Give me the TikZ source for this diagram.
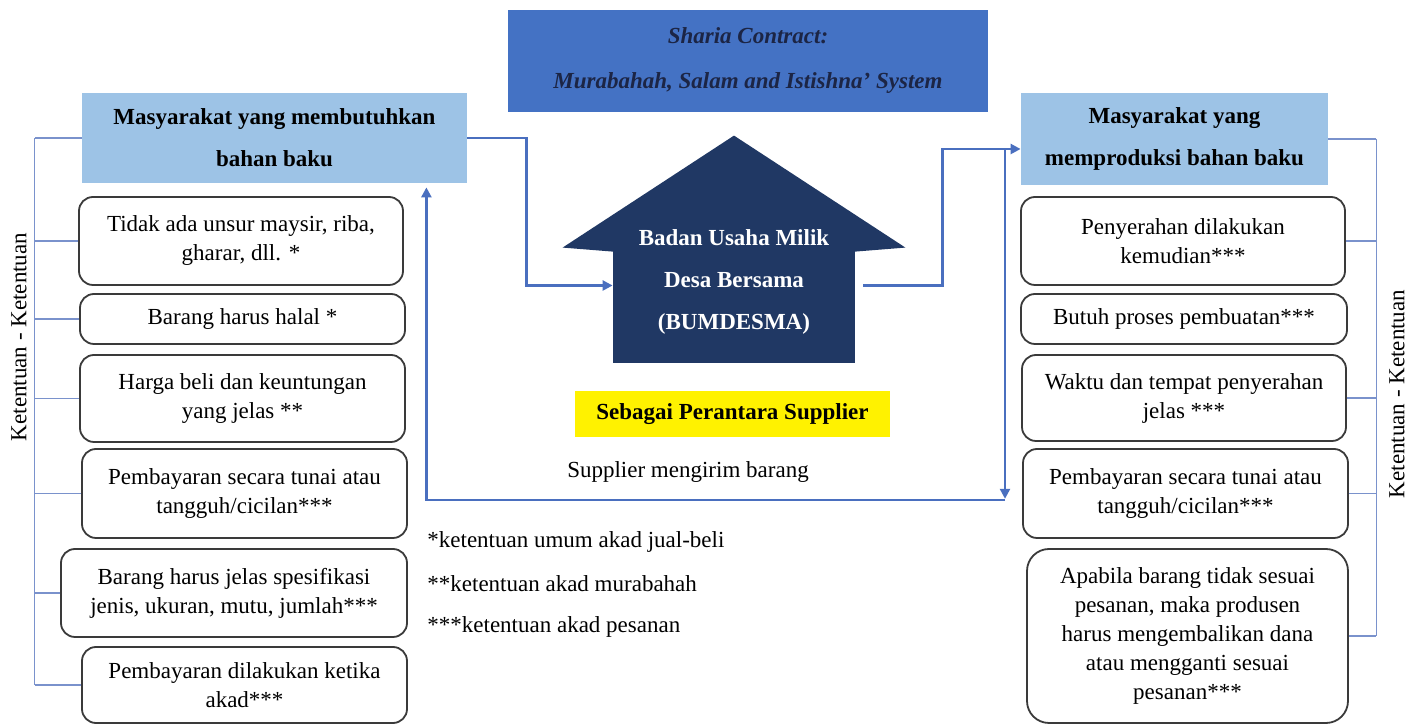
\documentclass[tikz,border=0pt]{standalone}
\usepackage{fontspec}
\setmainfont{Liberation Serif}
\usetikzlibrary{arrows.meta,positioning,calc}

\definecolor{hdrblue}{HTML}{9DC3E6}
\definecolor{midblue}{HTML}{4472C4}
\definecolor{housenavy}{HTML}{203864}
\definecolor{inknavy}{HTML}{1C2545}
\definecolor{linkblue}{HTML}{4A6FBF}
\definecolor{brackblue}{HTML}{7A92CC}
\definecolor{boxgray}{HTML}{3A3A3A}

\begin{document}
\begin{tikzpicture}[
        x=0.5pt, y=-0.5pt,
        >={Triangle[length=5pt,width=5pt]},
        every node/.style={font=\fontsize{11.5}{14.5}\selectfont, align=center, inner sep=2pt},
        rule/.style={draw=boxgray, line width=0.9pt, rounded corners=7pt, minimum width=162pt},
        party/.style={fill=hdrblue, minimum height=45pt, font=\bfseries\fontsize{11.5}{21}\selectfont},
        link/.style={draw=linkblue, line width=1.2pt},
        bline/.style={draw=brackblue, line width=0.7pt}
        ]

        \useasboundingbox (0,0) rectangle (1421,726);

        \node[fill=midblue, minimum width=240pt, minimum height=51pt, text=inknavy,
        font=\bfseries\itshape\fontsize{11.5}{22.5}\selectfont] (sharia) at (748,61)
        {Sharia Contract:\\Murabahah, Salam and Istishna' System};

        \node[party, minimum width=192.5pt] (needL) at (274.5,138) {Masyarakat yang membutuhkan\\bahan baku};
        \node[party, minimum width=153.5pt, minimum height=46pt] (makeR) at (1174.5,139) {Masyarakat yang\\memproduksi bahan baku};

        % house
        \node[fill=housenavy, minimum width=121pt, minimum height=57.5pt, inner sep=0] (bum) at (734,305.5) {};
        \fill[housenavy] ($(bum.north west)+(-50,0)$) -- ($(bum.north)+(0,-112)$) -- ($(bum.north east)+(50,0)$)
          -- ($(bum.north east)+(0,4)$) -- ($(bum.north west)+(0,4)$) -- cycle;
        \node[text=white, font=\bfseries\fontsize{11.5}{21}\selectfont] (bumtxt) at (734,282) {Badan Usaha Milik\\Desa Bersama\\(BUMDESMA)};

        \node[fill=yellow, minimum width=157.5pt, minimum height=23pt, font=\bfseries\fontsize{11.5}{14.5}\selectfont]
        (perantara) at (732.5,414) {Sebagai Perantara Supplier};

        \node (kirim) at (688,472) {Supplier mengirim barang};

        \node[anchor=west, inner sep=0] (fn1) at (427,542) {*ketentuan umum akad jual-beli};
        \node[anchor=west, inner sep=0] (fn2) at (427,584) {**ketentuan akad murabahah};
        \node[anchor=west, inner sep=0] (fn3) at (427,627) {***ketentuan akad pesanan};

        % left column
        \node[rule, minimum height=44pt] (L1) at (241,241) {Tidak ada unsur maysir, riba,\\gharar, dll. *};
        \node[rule, minimum height=25pt, minimum width=162.5pt] (L2) at (242.5,319) {Barang harus halal *};
        \node[rule, minimum height=43.5pt, minimum width=162.5pt] (L3) at (242.5,398.5) {Harga beli dan keuntungan\\yang jelas **};
        \node[rule, minimum height=44.5pt, minimum width=162.5pt] (L4) at (244.5,493.5) {Pembayaran secara tunai atau\\tangguh/cicilan***};
        \node[rule, minimum height=44pt, minimum width=173pt] (L5) at (234,593) {Barang harus jelas spesifikasi\\jenis, ukuran, mutu, jumlah***};
        \node[rule, minimum height=38pt, minimum width=162.5pt] (L6) at (244.5,685) {Pembayaran dilakukan ketika\\akad***};

        % right column
        \node[rule, minimum height=44pt] (R1) at (1183,241) {Penyerahan dilakukan\\kemudian***};
        \node[rule, minimum height=25pt, minimum width=163pt] (R2) at (1184,319) {Butuh proses pembuatan***};
        \node[rule, minimum height=43pt] (R3) at (1184,398) {Waktu dan tempat penyerahan\\jelas ***};
        \node[rule, minimum height=44.5pt, minimum width=162.5pt] (R4) at (1185.5,493.5) {Pembayaran secara tunai atau\\tangguh/cicilan***};
        \node[rule, minimum height=87pt, minimum width=160.5pt, rounded corners=11pt] (R5) at (1187.5,636)
        {Apabila barang tidak sesuai\\pesanan, maka produsen\\harus mengembalikan dana\\atau mengganti sesuai\\pesanan***};

        \node[rotate=90] (ketL) at (19,337) {Ketentuan - Ketentuan};
        \node[rotate=90] (ketR) at (1397,394) {Ketentuan - Ketentuan};

        % brackets
        \draw[bline] (needL.west) -- ++(-47,0) coordinate (topL);
        \foreach \n in {L1,L2,L3,L4,L5,L6}
          \draw[bline] (\n.west) -- (\n.west -| topL);
        \draw[bline] (topL) -- (L6.west -| topL);

        \draw[bline] (makeR.east) -- ++(48,0) coordinate (topR);
        \foreach \n in {R1,R3,R4,R5}
          \draw[bline] (\n.east) -- (\n.east -| topR);
        \draw[bline] (topR) -- (R5.east -| topR);

        % Edges
        \draw[link, ->] (needL.east) -- ++(59,0) |- ([yshift=10pt]bum.west);
        \draw[link, ->] ([xshift=4pt,yshift=10pt]bum.east) -- ++(79,0) |- ([yshift=-5pt]makeR.west);

        \coordinate (drop) at (1005,149);
        \coordinate (corner) at (1005,500);
        \draw[link, ->] (drop) -- ([yshift=0.6pt]corner);
        \draw[link, ->] (corner) -| ($(needL.south east)+(-41,4)$);

\end{tikzpicture}
\end{document}
